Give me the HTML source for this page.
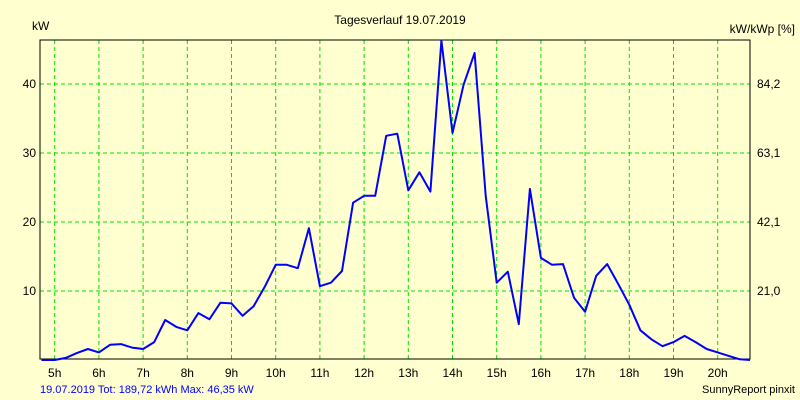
<!DOCTYPE html>
<html><head><meta charset="utf-8"><style>
body{margin:0;background:#fff}
svg{display:block;font-family:"Liberation Sans",sans-serif}
</style></head><body>
<svg id="c" width="800" height="400">
<rect x="0" y="0" width="800" height="400" fill="#ffffd0"/>
<text x="400" y="24" font-size="12" text-anchor="middle">Tagesverlauf 19.07.2019</text>
<text x="32" y="30" font-size="12">kW</text>
<text x="795" y="33" font-size="12" text-anchor="end">kW/kWp [%]</text>
<text x="40" y="393" font-size="11" fill="#0000ff">19.07.2019 Tot: 189,72 kWh Max: 46,35 kW</text>
<text x="795" y="393" font-size="11" text-anchor="end">SunnyReport pinxit</text>
<g id="grid"></g>
<g id="axes"></g>
<path id="line" fill="none" stroke="#0000ff" stroke-width="2" stroke-linejoin="round"/>
</svg>
<script>
const yTicks=[10,20,30,40];
const y2Labels=["21,0","42,1","63,1","84,2"];
const hourLabels=["5h","6h","7h","8h","9h","10h","11h","12h","13h","14h","15h","16h","17h","18h","19h","20h"];
const times=[4.7,5,5.25,5.5,5.75,6,6.25,6.5,6.75,7,7.25,7.5,7.75,8,8.25,8.5,8.75,9,9.25,9.5,9.75,10,10.25,10.5,10.75,11,11.25,11.5,11.75,12,12.25,12.5,12.75,13,13.25,13.5,13.75,14,14.25,14.5,14.75,15,15.25,15.5,15.75,16,16.25,16.5,16.75,17,17.25,17.5,17.75,18,18.25,18.5,18.75,19,19.25,19.5,19.75,20,20.25,20.5,20.75,21.2];
const power=[0,0,0.3,1,1.6,1.1,2.2,2.3,1.8,1.6,2.6,5.8,4.8,4.3,6.8,5.9,8.3,8.2,6.4,7.8,10.6,13.8,13.8,13.3,19.1,10.7,11.2,12.9,22.8,23.8,23.8,32.5,32.8,24.6,27.2,24.4,46.3,32.9,39.9,44.5,23.8,11.2,12.8,5.2,24.8,14.8,13.8,13.9,9,7,12.2,13.9,11,8,4.3,3,2,2.6,3.5,2.6,1.6,1.1,0.6,0.1,0,0];
const L=40,R=750,T=40,B=359;
const x=h=>Math.max(L,Math.min(R,54.7+44.2*(h-5)));
const y=v=>360-6.9*v;
const ns="http://www.w3.org/2000/svg";
const grid=document.getElementById('grid'),axes=document.getElementById('axes');
function mk(tag,attrs,parent){const e=document.createElementNS(ns,tag);for(const k in attrs)e.setAttribute(k,attrs[k]);parent.appendChild(e);return e;}
hourLabels.forEach((lab,i)=>{
  const xx=54.7+44.2*i;
  const g=mk('line',{x1:xx,x2:xx,y1:T,y2:B,stroke:'#00e000','stroke-dasharray':'4,3'},grid);
  
  
  const t=mk('text',{x:xx,y:377,'font-size':12,'text-anchor':'middle'},axes);
  t.textContent=lab;
  
  
});
yTicks.forEach((v,i)=>{
  const yy=y(v);
  const g=mk('line',{x1:L,x2:R,y1:yy,y2:yy,stroke:'#00e000','stroke-dasharray':'4,3'},grid);
  
  
  const t=mk('text',{x:36,y:yy+4,'font-size':12,'text-anchor':'end'},axes);
  t.textContent=v;
  
  
  const t2=mk('text',{x:757,y:yy+4,'font-size':12},axes);
  t2.textContent=y2Labels[i];
  
  
});
const fr=mk('rect',{x:L,y:T,width:R-L,height:B-T,fill:'none',stroke:'#000'},axes);


document.getElementById('line').setAttribute('d',times.map((t,i)=>(i?'L':'M')+x(t).toFixed(1)+','+y(power[i]).toFixed(1)).join(' '));
</script>
</body></html>
